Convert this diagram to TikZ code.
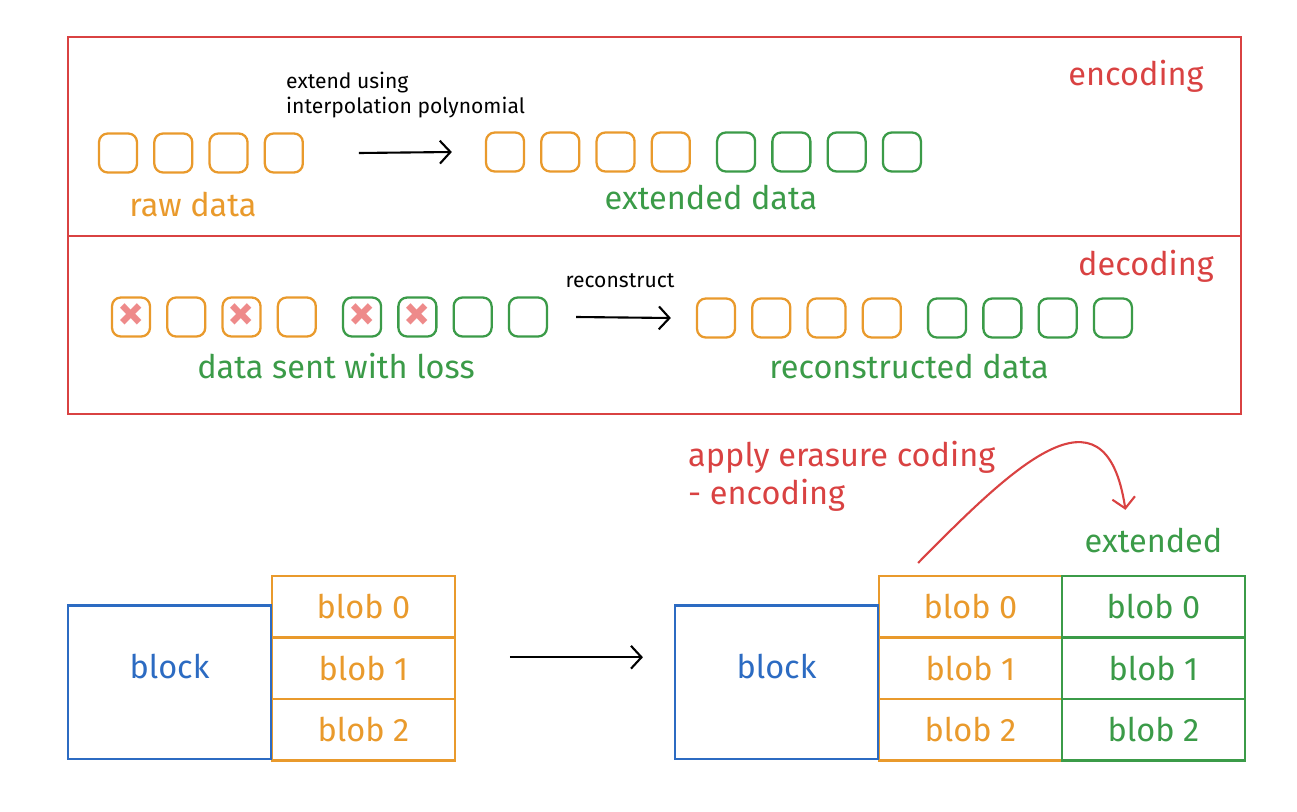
\documentclass[tikz,border=0pt]{standalone}
\usepackage{fontspec}
\setmainfont{Fira Sans}
\usetikzlibrary{positioning, arrows.meta}
\definecolor{ExRed}{HTML}{D94242}
\definecolor{ExOrange}{HTML}{E99A2C}
\definecolor{ExGreen}{HTML}{3B9B48}
\definecolor{ExBlue}{HTML}{2C6BC2}
\definecolor{ExPink}{HTML}{EE8A8A}
\begin{document}
\begin{tikzpicture}[
		x=0.02cm, y=-0.02cm,
		framebox/.style={draw=ExRed, line width=1.2pt, minimum width=23.46cm, inner sep=0pt, outer sep=0pt},
		sq/.style={draw, line width=1.3pt, rounded corners=5pt, minimum width=0.76cm, minimum height=0.78cm, inner sep=0pt},
		osq/.style={sq, draw=ExOrange},
		gsq/.style={sq, draw=ExGreen},
		lost/.style={text=ExPink, font=\fontsize{30}{30}\bfseries},
		bigtext/.style={font=\fontsize{18.5}{21.6}\selectfont},
		note/.style={font=\fontsize{12}{14}\selectfont, align=left},
		blob/.style={draw, line width=1.2pt, bigtext, minimum width=3.66cm, minimum height=1.23cm, inner sep=0pt, outer sep=0pt},
		oblob/.style={blob, draw=ExOrange, text=ExOrange},
		gblob/.style={blob, draw=ExGreen, text=ExGreen},
		blockbox/.style={draw=ExBlue, text=ExBlue, line width=1.2pt, bigtext, minimum width=4.06cm, minimum height=3.08cm, text depth=0.65cm},
		arr/.style={-{Straight Barb[length=6pt,width=13pt]}, line width=1.2pt}
	]
		\useasboundingbox (0,0) rectangle (1297,811);
		
		% encoding / decoding frames
		\node[framebox, minimum height=3.98cm, anchor=north west] (encframe) at (68,37) {};
		\node[framebox, minimum height=3.56cm, below=0pt of encframe] (decframe) {};
		\node[bigtext, text=ExRed] (enclabel) at (1136,76) {encoding};
		\node[bigtext, text=ExRed] (declabel) at (1146,266) {decoding};
		
		% raw data
		\node[osq] (raw1) at (118,153) {};
		\node[osq, right=0.3cm of raw1] (raw2) {};
		\node[osq, right=0.3cm of raw2] (raw3) {};
		\node[osq, right=0.3cm of raw3] (raw4) {};
		\node[bigtext, text=ExOrange] (rawlabel) at (193,205) {raw data};
		
		\node[note, anchor=north west] (extendnote) at (280,66) {extend using\\interpolation polynomial};
		
		% extended data
		\node[osq] (ext1) at (505,152) {};
		\node[osq, right=0.3cm of ext1] (ext2) {};
		\node[osq, right=0.3cm of ext2] (ext3) {};
		\node[osq, right=0.3cm of ext3] (ext4) {};
		\node[gsq, right=0.5cm of ext4] (ext5) {};
		\node[gsq, right=0.3cm of ext5] (ext6) {};
		\node[gsq, right=0.3cm of ext6] (ext7) {};
		\node[gsq, right=0.3cm of ext7] (ext8) {};
		\node[bigtext, text=ExGreen] (extlabel) at (711,198) {extended data};
		
		\draw[arr] ([xshift=1.1cm]raw4.east) -- ([xshift=-0.66cm]ext1.west);
		
		% data sent with loss
		\node[osq, lost] (loss1) at (131,317) {×};
		\node[osq, right=0.3cm of loss1] (loss2) {};
		\node[osq, lost, right=0.3cm of loss2] (loss3) {×};
		\node[osq, right=0.3cm of loss3] (loss4) {};
		\node[gsq, lost, right=0.5cm of loss4] (loss5) {×};
		\node[gsq, lost, right=0.3cm of loss5] (loss6) {×};
		\node[gsq, right=0.3cm of loss6] (loss7) {};
		\node[gsq, right=0.3cm of loss7] (loss8) {};
		\node[bigtext, text=ExGreen] (losslabel) at (336,366) {data sent with loss};
		
		\node[note] (recnote) at (620,281) {reconstruct};
		
		% reconstructed data
		\node[osq] (rec1) at (716,318) {};
		\node[osq, right=0.3cm of rec1] (rec2) {};
		\node[osq, right=0.3cm of rec2] (rec3) {};
		\node[osq, right=0.3cm of rec3] (rec4) {};
		\node[gsq, right=0.5cm of rec4] (rec5) {};
		\node[gsq, right=0.3cm of rec5] (rec6) {};
		\node[gsq, right=0.3cm of rec6] (rec7) {};
		\node[gsq, right=0.3cm of rec7] (rec8) {};
		\node[bigtext, text=ExGreen] (reclabel) at (909,367) {reconstructed data};
		
		\draw[arr] ([xshift=0.56cm]loss8.east) -- ([xshift=-0.5cm]rec1.west);
		
		% block with blobs
		\node[oblob, anchor=north west] (lblob0) at (272,576) {blob 0};
		\node[oblob, below=0pt of lblob0] (lblob1) {blob 1};
		\node[oblob, below=0pt of lblob1] (lblob2) {blob 2};
		\node[blockbox, left=0pt of lblob2.south west, anchor=south east] (lblock) {block};
		
		% block with extended blobs
		\node[oblob, anchor=north west] (rblob0) at (879,576) {blob 0};
		\node[oblob, below=0pt of rblob0] (rblob1) {blob 1};
		\node[oblob, below=0pt of rblob1] (rblob2) {blob 2};
		\node[gblob, right=0pt of rblob0] (gblob0) {blob 0};
		\node[gblob, right=0pt of rblob1] (gblob1) {blob 1};
		\node[gblob, right=0pt of rblob2] (gblob2) {blob 2};
		\node[blockbox, left=0pt of rblob2.south west, anchor=south east] (rblock) {block};
		
		\node[bigtext, text=ExGreen, above=0.34cm of gblob0] (extendedlabel) {extended};
		\node[bigtext, text=ExRed, align=left, anchor=north west] (applynote) at (682,435) {apply erasure coding\\- encoding};
		
		\draw[arr] ([xshift=1.1cm, yshift=0.22cm]lblob1.east) -- ([xshift=-0.62cm, yshift=0.22cm]lblob1.east -| rblock.west);
		\draw[arr, ExRed] ([shift={(39,-13)}]rblob0.north west) .. controls (1010,470) and (1105,375) .. ([shift={(-28,-12)}]extendedlabel.north);
		
	\end{tikzpicture}
\end{document}
